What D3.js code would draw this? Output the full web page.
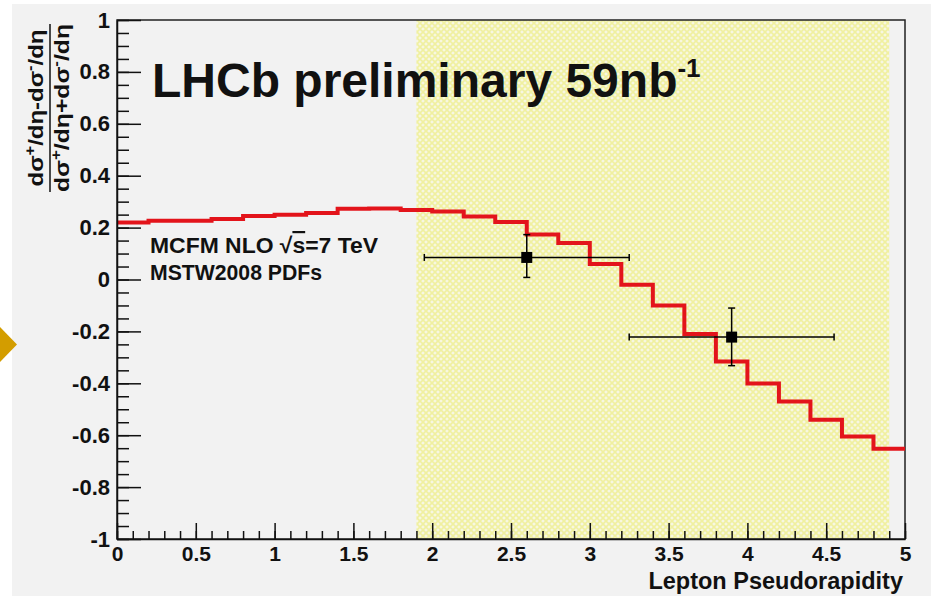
<!DOCTYPE html>
<html>
<head>
<meta charset="utf-8">
<script src="https://cdn.jsdelivr.net/npm/d3@7"></script>
<style>
  html, body { margin: 0; padding: 0; background: #ffffff; }
  svg { display: block; font-family: "Liberation Sans", Arial, Helvetica, sans-serif; font-weight: bold; }
</style>
</head>
<body>
<div id="chart"></div>
<script>
// theory histogram (MCFM NLO), bins of 0.2 in eta
const binEdges = [0, 0.2, 0.4, 0.6, 0.8, 1.0, 1.2, 1.4, 1.6, 1.8, 2.0, 2.2, 2.4, 2.6, 2.8,
                  3.0, 3.2, 3.4, 3.6, 3.8, 4.0, 4.2, 4.4, 4.6, 4.8, 5.0];
const theory = [0.220, 0.226, 0.226, 0.233, 0.245, 0.250, 0.256, 0.273, 0.274, 0.268,
                0.262, 0.243, 0.222, 0.173, 0.141, 0.060, -0.020, -0.100, -0.210, -0.316,
                -0.401, -0.470, -0.540, -0.605, -0.652];

// LHCb data points
const dataEta = [2.6, 3.9];
const dataAsym = [0.085, -0.222];
const dataEtaLow = [1.95, 3.25];
const dataEtaHigh = [3.25, 4.55];
const dataAsymLow = [0.008, -0.332];
const dataAsymHigh = [0.173, -0.110];

// acceptance band
const band = [1.9, 4.9];

const xMajor = [0, 0.5, 1, 1.5, 2, 2.5, 3, 3.5, 4, 4.5, 5];
const yMajor = [-1, -0.8, -0.6, -0.4, -0.2, 0, 0.2, 0.4, 0.6, 0.8, 1];

const W = 931, H = 596;
const margin = {top: 20, right: 26, bottom: 57, left: 117};
const width = W - margin.left - margin.right;
const height = H - margin.top - margin.bottom;

const svg = d3.select("#chart").append("svg")
    .attr("width", W)
    .attr("height", H);

// page background (white strip left/top like the slide)
svg.append("rect").attr("width", W).attr("height", H).attr("fill", "#ffffff");
svg.append("rect").attr("x", 12).attr("y", 4).attr("width", W - 12).attr("height", H - 4).attr("fill", "#f2f2f2");

// orange slide arrow
svg.append("path")
    .attr("d", "M0,327 L17,344.5 L0,362 Z")
    .attr("fill", "#d39d00");

const defs = svg.append("defs");
const pat = defs.append("pattern")
    .attr("id", "hatch")
    .attr("width", 6).attr("height", 6)
    .attr("patternUnits", "userSpaceOnUse");
pat.append("rect").attr("width", 6).attr("height", 6).attr("fill", "#f8f8e2");
pat.append("path")
    .attr("d", "M0,0 L6,6 M6,0 L0,6")
    .attr("stroke", "#f0f0a0")
    .attr("stroke-width", 1.6);

const x = d3.scaleLinear().domain([0, 5]).range([0, width]);
const y = d3.scaleLinear().domain([-1, 1]).range([height, 0]);

const plot = svg.append("g")
    .attr("transform", `translate(${margin.left},${margin.top})`);

// yellow acceptance band
plot.append("rect")
    .attr("x", x(band[0]))
    .attr("y", 0)
    .attr("width", x(band[1]) - x(band[0]))
    .attr("height", height)
    .attr("fill", "url(#hatch)");

// frame (top/right)
plot.append("rect")
    .attr("width", width).attr("height", height)
    .attr("fill", "none")
    .attr("stroke", "#222")
    .attr("stroke-width", 1.5);

// theory step line
const stepPts = theory.map((v, i) => [binEdges[i], v]);
stepPts.push([binEdges[binEdges.length - 1], theory[theory.length - 1]]);

plot.append("path")
    .datum(stepPts)
    .attr("fill", "none")
    .attr("stroke", "#e3141b")
    .attr("stroke-width", 4)
    .attr("d", d3.line()
        .x(d => x(d[0]))
        .y(d => y(d[1]))
        .curve(d3.curveStepAfter));

// data points with error bars
const pts = dataEta.map((e, i) => ({
    eta: e, a: dataAsym[i],
    lo: dataEtaLow[i], hi: dataEtaHigh[i],
    alo: dataAsymLow[i], ahi: dataAsymHigh[i]
}));

const pg = plot.append("g").selectAll(".pt")
    .data(pts)
    .enter().append("g")
    .attr("class", "pt");

pg.append("line")
    .attr("x1", d => x(d.lo)).attr("x2", d => x(d.hi))
    .attr("y1", d => y(d.a)).attr("y2", d => y(d.a))
    .attr("stroke", "#000").attr("stroke-width", 1.5);
pg.append("line")
    .attr("x1", d => x(d.eta)).attr("x2", d => x(d.eta))
    .attr("y1", d => y(d.alo)).attr("y2", d => y(d.ahi))
    .attr("stroke", "#000").attr("stroke-width", 1.5);
// end caps
[["lo", "v"], ["hi", "v"], ["alo", "h"], ["ahi", "h"]].forEach(([k, dir]) => {
    pg.append("line")
        .attr("x1", d => dir === "v" ? x(d[k]) : x(d.eta) - 3.5)
        .attr("x2", d => dir === "v" ? x(d[k]) : x(d.eta) + 3.5)
        .attr("y1", d => dir === "v" ? y(d.a) - 3.5 : y(d[k]))
        .attr("y2", d => dir === "v" ? y(d.a) + 3.5 : y(d[k]))
        .attr("stroke", "#000").attr("stroke-width", 1.5);
});
pg.append("rect")
    .attr("x", d => x(d.eta) - 5.5)
    .attr("y", d => y(d.a) - 5.5)
    .attr("width", 11).attr("height", 11)
    .attr("fill", "#000");

// axes
const fmt = d => String(+d.toFixed(1));

const yMinor = d3.range(-1, 1.0001, 0.05).map(v => +v.toFixed(2));
const xMinor = d3.range(0, 5.0001, 0.1).map(v => +v.toFixed(1));

plot.append("g")
    .call(d3.axisLeft(y).tickValues(yMinor).tickSize(-12).tickFormat("").tickSizeOuter(0))
    .call(g => g.select(".domain").remove())
    .call(g => g.selectAll("line").attr("stroke", "#111").attr("stroke-width", 1.5));

const yAx = plot.append("g")
    .call(d3.axisLeft(y).tickValues(yMajor).tickSize(-24).tickPadding(7).tickFormat(fmt).tickSizeOuter(0));
yAx.select(".domain").attr("stroke", "#111").attr("stroke-width", 1.5);
yAx.selectAll("line").attr("stroke", "#111").attr("stroke-width", 1.5);
yAx.selectAll("text")
    .attr("font-size", 22).attr("font-weight", "bold")
    .attr("font-family", "Liberation Sans, Arial, sans-serif")
    .attr("fill", "#111");

plot.append("g")
    .attr("transform", `translate(0,${height})`)
    .call(d3.axisBottom(x).tickValues(xMinor).tickSize(-8).tickFormat("").tickSizeOuter(0))
    .call(g => g.select(".domain").remove())
    .call(g => g.selectAll("line").attr("stroke", "#111").attr("stroke-width", 1.5));

const xAx = plot.append("g")
    .attr("transform", `translate(0,${height})`)
    .call(d3.axisBottom(x).tickValues(xMajor).tickSize(-16).tickPadding(7).tickFormat(fmt).tickSizeOuter(0));
xAx.select(".domain").attr("stroke", "#111").attr("stroke-width", 1.5);
xAx.selectAll("line").attr("stroke", "#111").attr("stroke-width", 1.5);
xAx.selectAll("text")
    .attr("font-size", 21).attr("font-weight", "bold")
    .attr("font-family", "Liberation Sans, Arial, sans-serif")
    .attr("fill", "#111");

// x axis title
svg.append("text")
    .attr("x", margin.left + width - 2)
    .attr("y", 589)
    .attr("text-anchor", "end")
    .attr("font-size", 23.5)
    .attr("fill", "#111")
    .text("Lepton Pseudorapidity");

// y axis title as a fraction
const yt = svg.append("g").attr("transform", "translate(0,108) rotate(-90)");

function fracLine(g, yPos, op, len) {
    const t = g.append("text")
        .attr("x", 0).attr("y", yPos)
        .attr("text-anchor", "middle")
        .attr("font-size", 20.5)
        .attr("fill", "#111")
        .attr("textLength", len)
        .attr("lengthAdjust", "spacingAndGlyphs");
    t.append("tspan").text("dσ");
    t.append("tspan").attr("font-size", 14).attr("dy", -8).text("+");
    t.append("tspan").attr("dy", 8).text("/dη" + op + "dσ");
    t.append("tspan").attr("font-size", 14).attr("dy", -8).text("-");
    t.append("tspan").attr("dy", 8).text("/dη");
    return t;
}
fracLine(yt, 43, "-", 157);
fracLine(yt, 69, "+", 168);
yt.append("line")
    .attr("x1", -84).attr("x2", 84)
    .attr("y1", 50).attr("y2", 50)
    .attr("stroke", "#111").attr("stroke-width", 1.5);

// title
const title = svg.append("text")
    .attr("x", 152).attr("y", 97)
    .attr("font-size", 48)
    .attr("fill", "#111");
title.append("tspan").text("LHCb preliminary 59nb");
title.append("tspan").attr("font-size", 26).attr("dy", -20).text("-1");

// legend text
const leg = svg.append("text")
    .attr("x", 150).attr("y", 253)
    .attr("font-size", 22)
    .attr("fill", "#111")
    .attr("textLength", 228)
    .attr("lengthAdjust", "spacingAndGlyphs");
leg.append("tspan").text("MCFM NLO ");
leg.append("tspan").text("√");
leg.append("tspan").style("text-decoration", "overline").text("s");
leg.append("tspan").text("=7 TeV");

svg.append("text")
    .attr("x", 150).attr("y", 280)
    .attr("font-size", 22)
    .attr("fill", "#111")
    .attr("textLength", 172)
    .attr("lengthAdjust", "spacingAndGlyphs")
    .text("MSTW2008 PDFs");
</script>
</body>
</html>
